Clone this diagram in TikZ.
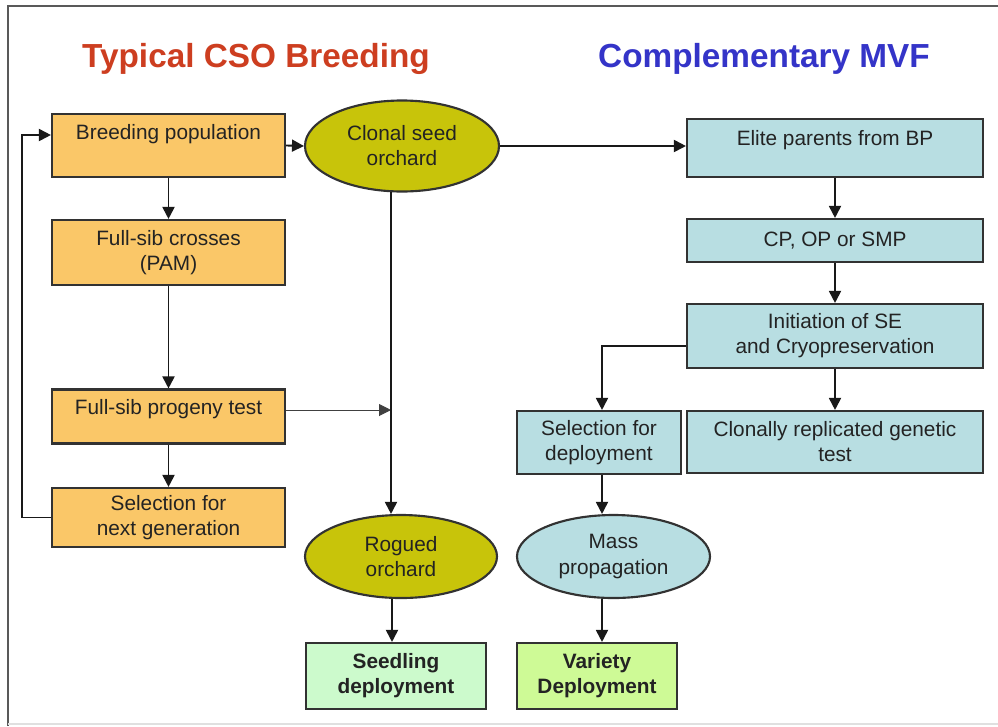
\documentclass[tikz,border=0pt]{standalone}
\usepackage{fontspec}
\setmainfont{Liberation Sans}
\usetikzlibrary{shapes.geometric,arrows.meta,calc}
\definecolor{orfill}{RGB}{250,199,104}
\definecolor{olfill}{RGB}{200,196,10}
\definecolor{blfill}{RGB}{184,222,226}
\definecolor{grfill}{RGB}{204,250,204}
\definecolor{ygfill}{RGB}{206,250,150}
\definecolor{edgec}{RGB}{50,50,50}
\definecolor{txtc}{RGB}{35,35,35}
\definecolor{ttlred}{RGB}{205,62,32}
\definecolor{ttlblue}{RGB}{52,52,200}
\tikzset{
  basebox/.style={draw=edgec,line width=1.6pt,align=center,inner sep=0pt,text=txtc,
    font=\fontsize{15.6}{18.8}\selectfont},
  wh/.style 2 args={minimum width=#1*0.75pt,minimum height=#2*0.75pt},
  obox/.style={basebox,rectangle,fill=orfill},
  bbox/.style={basebox,rectangle,fill=blfill},
  oell/.style={basebox,ellipse,fill=olfill},
  bell/.style={basebox,ellipse,fill=blfill},
  gbox/.style={basebox,rectangle,fill=grfill,font=\fontsize{15.6}{18.8}\selectfont\bfseries},
  ybox/.style={basebox,rectangle,fill=ygfill,font=\fontsize{15.6}{18.8}\selectfont\bfseries},
  arr/.style={draw=black!90,line width=1.4pt,-{Triangle[length=9pt,width=9pt]}},
  ttl/.style={font=\fontsize{25}{30}\selectfont\bfseries,anchor=base,inner sep=0pt}
}
\begin{document}
\begin{tikzpicture}[x=0.75pt,y=-0.75pt]
\useasboundingbox (0,0) rectangle (998,726);
\fill[white] (0,0) rectangle (998,726);
% frame
\draw[draw=black!65,line width=1.5pt] (8,726) -- (8,6) -- (998,6);
\draw[draw=black!12,line width=1.5pt] (8,724) -- (998,724);
% titles
\node[ttl,text=ttlred] (t1) at (256,67) {Typical CSO Breeding};
\node[ttl,text=ttlblue] (t2) at (764,67) {Complementary MVF};
% left column
\node[obox,wh={233}{63},text depth=21pt] (bp) at (168.5,145.5) {Breeding population};
\node[obox,wh={233}{65}] (fsc) at (168.5,252.5) {Full-sib crosses\\(PAM)};
\node[obox,wh={233}{54},text depth=15pt] (fpt) at (168.5,416.5) {Full-sib progeny test};
\node[obox,wh={233}{59}] (sng) at (168.5,517.5) {Selection for\\next generation};
% middle
\node[oell,wh={194}{91}] (cso) at (402,146) {Clonal seed\\orchard};
\node[oell,wh={192}{83}] (rog) at (401,556.5) {Rogued\\orchard};
\node[gbox,wh={180}{66}] (sd) at (396,676) {Seedling\\deployment};
% right column
\node[bbox,wh={296}{58},text depth=15pt] (ep) at (835,148) {Elite parents from BP};
\node[bbox,wh={296}{43}] (cp) at (835,240.5) {CP, OP or SMP};
\node[bbox,wh={296}{64}] (ini) at (835,336) {Initiation of SE\\and Cryopreservation};
\node[bbox,wh={296}{62}] (crg) at (835,442) {Clonally replicated genetic\\test};
\node[bbox,wh={164}{63}] (sfd) at (599,442.5) {Selection for\\deployment};
\node[bell,wh={193}{83}] (mp) at (613.5,556.5) {Mass\\propagation};
\node[ybox,wh={160}{66}] (vd) at (597,676) {Variety\\Deployment};
% helper coordinates
\coordinate (fb) at (22,135);
\coordinate (dt) at (391,410);
\coordinate (c1) at (391,191.5);
\coordinate (c2) at (392,600);
\coordinate (c3) at (602,346);
\coordinate (c4) at (602,600);
% connectors
\draw[arr] (bp.east) -- (cso.west);
\draw[arr] (cso.east) -- (cso.east -| ep.west);
\draw[arr] (bp.south) -- (fsc.north);
\draw[arr] (fsc.south) -- (fpt.north);
\draw[arr] (fpt.south) -- (sng.north);
\draw[arr] (sng.west) -- (sng.west -| fb) -- (fb) -- (fb -| bp.west);
\draw[draw=black!75,line width=0.7pt,-{Triangle[length=9pt,width=9pt]}] (dt -| fpt.east) -- (dt);
\draw[arr] (c1) -- (c1 |- rog.north);
\draw[arr] (c2 |- rog.south) -- (c2 |- sd.north);
\draw[arr] (ep.south) -- (cp.north);
\draw[arr] (cp.south) -- (ini.north);
\draw[arr] (ini.south) -- (crg.north);
\draw[arr] (c3 -| ini.west) -- (c3) -- (c3 |- sfd.north);
\draw[arr] (c3 |- sfd.south) -- (c3 |- mp.north);
\draw[arr] (c4 |- mp.south) -- (c4 |- vd.north);
\end{tikzpicture}
\end{document}
